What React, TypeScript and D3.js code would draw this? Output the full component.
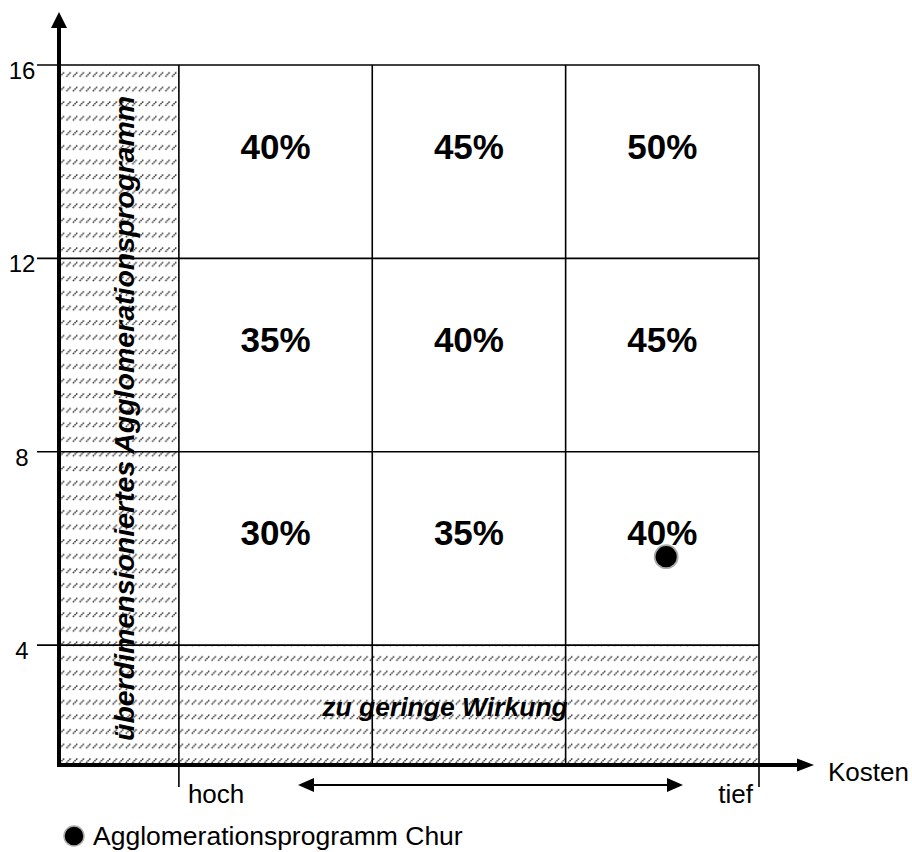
import React from "react";
import * as d3 from "d3";

// ---- data ----
const costBreaks = [0, 1, 2, 3]; // column boundaries (cost classes)
const effectTicks = [4, 8, 12, 16]; // y tick values (Wirkung)
const rowTops = [16, 12, 8];
const colStarts = [0, 1, 2];
const shares = [
  [40, 45, 50],
  [35, 40, 45],
  [30, 35, 40],
];
const xMin = -0.62;
const yMin = 1.52;
const programmes = [{ name: "Agglomerationsprogramm Chur", x: 2.52, y: 5.83 }];
const costLabels = { high: "hoch", low: "tief", axis: "Kosten" };
const zoneLabels = { left: "überdimensioniertes Agglomerationsprogramm", bottom: "zu geringe Wirkung" };

const W = 912;
const H = 852;
const FONT = "'Liberation Sans', Arial, Helvetica, sans-serif";

export default function App() {
  const x = d3.scaleLinear().domain([xMin, 3]).range([59, 759]);
  const y = d3.scaleLinear().domain([yMin, 16]).range([765, 65]);

  const axisY = y(yMin);
  const axisX = x(xMin);

  return (
    <svg
      width={W}
      height={H}
      viewBox={`0 0 ${W} ${H}`}
      style={{ position: "absolute", left: 0, top: 0, background: "#fff" }}
      fontFamily={FONT}
    >
      <defs>
        <pattern
          id="hatch"
          patternUnits="userSpaceOnUse"
          width={6.6}
          height={14.6}
          x={axisX}
          y={y(16)}
        >
          <rect width={6.6} height={14.6} fill="#fff" />
          <line x1={0.8} y1={11.6} x2={5.4} y2={7} stroke="#2a2a2a" strokeWidth={1.45} strokeDasharray="1.6 0.6" />
        </pattern>
      </defs>

      {/* hatched zones */}
      <rect x={x(xMin)} y={y(16)} width={x(0) - x(xMin)} height={y(yMin) - y(16)} fill="url(#hatch)" />
      <rect x={x(0)} y={y(4)} width={x(3) - x(0)} height={y(yMin) - y(4)} fill="url(#hatch)" />

      {/* horizontal grid lines + y ticks */}
      {effectTicks.map((t) => (
        <g key={"h" + t}>
          <line x1={37} x2={x(3)} y1={y(t)} y2={y(t)} stroke="#000" strokeWidth={1.6} />
          <text x={22} y={y(t) + 14} fontSize={24} textAnchor="middle" fill="#000">
            {t}
          </text>
        </g>
      ))}

      {/* vertical grid lines */}
      {costBreaks.map((c, i) => {
        const ext = i === 0 || i === costBreaks.length - 1;
        return (
          <line
            key={"v" + c}
            x1={x(c)}
            x2={x(c)}
            y1={y(16)}
            y2={ext ? axisY + 22 : axisY}
            stroke="#000"
            strokeWidth={1.6}
          />
        );
      })}

      {/* percentages */}
      {rowTops.map((top, r) =>
        colStarts.map((c0, ci) => (
          <text
            key={`p${r}-${ci}`}
            x={x(c0 + 0.5)}
            y={y(top - 2) - 3}
            fontSize={35}
            fontWeight="bold"
            textAnchor="middle"
            fill="#000"
          >
            {shares[r][ci]}%
          </text>
        ))
      )}

      {/* zone labels */}
      <text
        transform={`translate(${x(xMin / 2) + 15},${y(yMin) - 24}) rotate(-90)`}
        fontSize={28.5}
        fontWeight="bold"
        fontStyle="italic"
        textAnchor="start"
        fill="#000"
      >
        {zoneLabels.left}
      </text>
      <text
        x={445}
        y={716}
        fontSize={26.5}
        fontWeight="bold"
        fontStyle="italic"
        textAnchor="middle"
        fill="#000"
      >
        {zoneLabels.bottom}
      </text>

      {/* axes */}
      <line x1={axisX} x2={axisX} y1={axisY + 2} y2={26} stroke="#000" strokeWidth={4} />
      <path d={`M${axisX},12 L${axisX - 8},28 L${axisX + 8},28 Z`} fill="#000" />
      <line x1={axisX - 2} x2={799} y1={axisY} y2={axisY} stroke="#000" strokeWidth={4} />
      <path d={`M814,${axisY} L797,${axisY - 6.5} L797,${axisY + 6.5} Z`} fill="#000" />
      <text x={828} y={781} fontSize={26} fill="#000">
        {costLabels.axis}
      </text>

      {/* cost direction */}
      <text x={x(0) + 9} y={803} fontSize={26} fill="#000">
        {costLabels.high}
      </text>
      <text x={x(3) - 6} y={803} fontSize={26} textAnchor="end" fill="#000">
        {costLabels.low}
      </text>
      <line x1={310} x2={671} y1={785} y2={785} stroke="#000" strokeWidth={2} />
      <path d="M298,785 L314,778 L314,792 Z" fill="#000" />
      <path d="M683,785 L667,778 L667,792 Z" fill="#000" />

      {/* programme point */}
      {programmes.map((p) => (
        <circle key={p.name} cx={x(p.x)} cy={y(p.y)} r={11.5} fill="#000" stroke="#aaa" strokeWidth={1.8} />
      ))}

      {/* legend */}
      {programmes.map((p) => (
        <g key={"lg" + p.name}>
          <circle cx={74} cy={836} r={10} fill="#000" stroke="#aaa" strokeWidth={1.5} />
          <text x={93} y={845} fontSize={26.5} fill="#000">
            {p.name}
          </text>
        </g>
      ))}
    </svg>
  );
}
